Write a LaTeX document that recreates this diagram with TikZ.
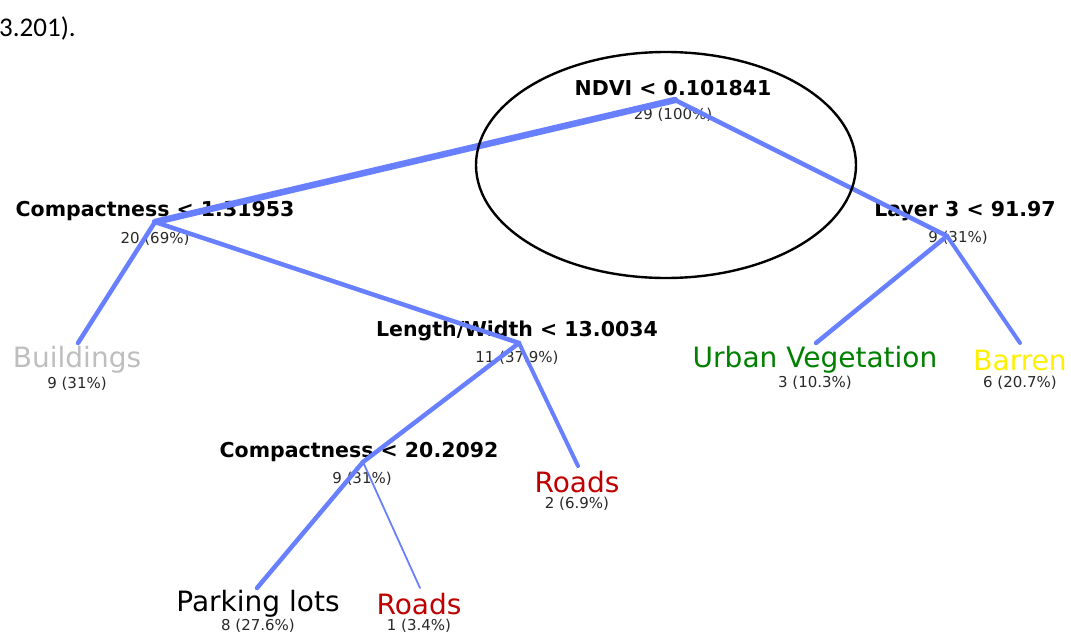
\documentclass[tikz,border=0pt]{standalone}
\usepackage{fontspec}
\setmainfont{DejaVu Sans}
\newfontfamily\bodyfont{Carlito}
\usepackage{tikz}
\usetikzlibrary{calc}
\definecolor{branch}{RGB}{104,128,255}
\definecolor{bldg}{RGB}{190,190,190}
\definecolor{veg}{RGB}{0,128,0}
\definecolor{bare}{RGB}{255,240,0}
\definecolor{road}{RGB}{192,0,0}
\definecolor{cnt}{RGB}{40,40,40}

\tikzset{
  split/.style={font=\bfseries\fontsize{20.5}{23}\selectfont, inner sep=0pt},
  leaf/.style={font=\fontsize{28}{30}\selectfont, inner sep=0pt},
  count/.style={font=\color{cnt}\fontsize{15}{17}\selectfont, inner sep=0pt},
  edge/.style={draw=branch, line cap=round}
}

\begin{document}
\begin{tikzpicture}[x=1pt, y=-1pt]
  \useasboundingbox (0,0) rectangle (1071,635);

  \node[font=\bodyfont\fontsize{27}{29}\selectfont, anchor=west, inner sep=0pt] (cont) at (-1,28) {3.201).};

  % splits
  \node[split] (root) at (673,88) {NDVI < 0.101841};
  \node[count] (rootn) at (673,115) {29 (100\%)};
  \coordinate (root-j) at (675,100);

  \node[split] (cmp1) at (155,211) {Compactness < 1.31953};
  \node[count] (cmp1n) at (155,239) {20 (69\%)};
  \coordinate (cmp1-j) at (155,222);

  \node[split] (layer) at (965,211) {Layer 3 < 91.97};
  \node[count] (layern) at (958,238) {9 (31\%)};
  \coordinate (layer-j) at (947,236);

  \node[split] (lw) at (517,331) {Length/Width < 13.0034};
  \node[count] (lwn) at (517,358) {11 (37.9\%)};
  \coordinate (lw-j) at (519,343);

  \node[split] (cmp2) at (359,452) {Compactness < 20.2092};
  \node[count] (cmp2n) at (362,479) {9 (31\%)};
  \coordinate (cmp2-j) at (363,462);

  % leaves
  \node[leaf, text=bldg] (bldg) at (77,360) {Buildings};
  \node[count] (bldgn) at (77,384) {9 (31\%)};
  \coordinate (bldg-j) at (78,343);

  \node[leaf, text=veg] (urbveg) at (815,360) {Urban Vegetation};
  \node[count] (urbvegn) at (815,383) {3 (10.3\%)};
  \coordinate (urbveg-j) at (816,343);

  \node[leaf, text=bare] (barren) at (1020,360) {Barren};
  \node[count] (barrenn) at (1020,383) {6 (20.7\%)};
  \coordinate (barren-j) at (1020,343);

  \node[leaf, text=road] (roads2) at (577,482) {Roads};
  \node[count] (roads2n) at (577,504) {2 (6.9\%)};
  \coordinate (roads2-j) at (578,466);

  \node[leaf] (parking) at (258,604) {Parking lots};
  \node[count] (parkingn) at (258,626) {8 (27.6\%)};
  \coordinate (parking-j) at (257,588);

  \node[leaf, text=road] (roads1) at (419,604) {Roads};
  \node[count] (roads1n) at (419,626) {1 (3.4\%)};
  \coordinate (roads1-j) at (420,588);

  % branches, width by sample count
  \draw[edge, line width=6.5] (root-j) -- (cmp1-j);
  \draw[edge, line width=4.5] (root-j) -- (layer-j);
  \draw[edge, line width=4.5] (cmp1-j) -- (bldg-j);
  \draw[edge, line width=4.5] (cmp1-j) -- (lw-j);
  \draw[edge, line width=4.5] (layer-j) -- (urbveg-j);
  \draw[edge, line width=4] (layer-j) -- (barren-j);
  \draw[edge, line width=4.5] (lw-j) -- (cmp2-j);
  \draw[edge, line width=4] (lw-j) -- (roads2-j);
  \draw[edge, line width=4.5] (cmp2-j) -- (parking-j);
  \draw[edge, line width=1.8] (cmp2-j) -- (roads1-j);

  \draw[line width=2.4] (666,165) ellipse [x radius=190pt, y radius=113pt];
\end{tikzpicture}
\end{document}
